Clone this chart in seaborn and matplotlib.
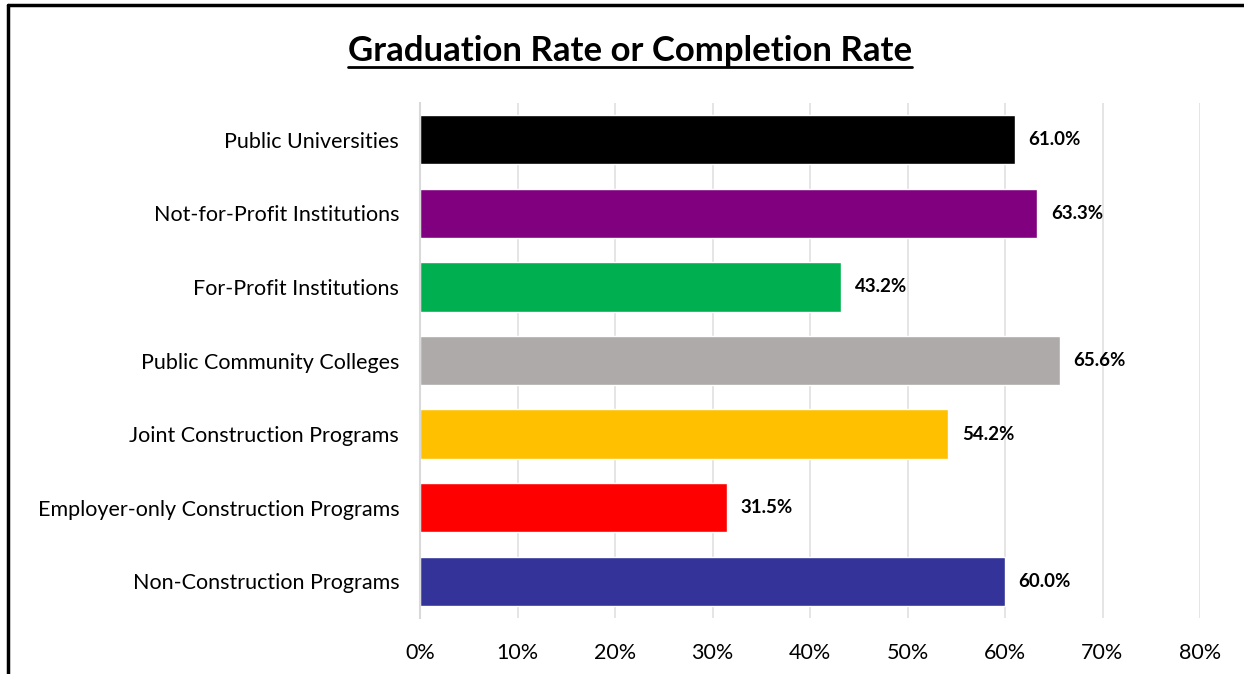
import matplotlib
matplotlib.use("Agg")
import matplotlib.pyplot as plt
import seaborn as sns
import pandas as pd
from matplotlib.ticker import PercentFormatter
from matplotlib.lines import Line2D

categories = [
    "Public Universities",
    "Not-for-Profit Institutions",
    "For-Profit Institutions",
    "Public Community Colleges",
    "Joint Construction Programs",
    "Employer-only Construction Programs",
    "Non-Construction Programs",
]
rates = [61.0, 63.3, 43.2, 65.6, 54.2, 31.5, 60.0]
colors = ["#000000", "#800080", "#00B050", "#AEAAAA", "#FFC000", "#FF0000", "#333399"]
xticks = [0, 10, 20, 30, 40, 50, 60, 70, 80]

df = pd.DataFrame({"category": categories, "rate": rates})

sns.set_style("white")
plt.rcParams["font.family"] = ["Lato", "DejaVu Sans"]
plt.rcParams["text.color"] = "black"
plt.rcParams["xtick.color"] = "black"
plt.rcParams["ytick.color"] = "black"

fig = plt.figure(figsize=(12.44, 6.74), dpi=100)
ax = fig.add_axes([420 / 1244, 1 - 618 / 674, 780 / 1244, 515 / 674])

sns.barplot(data=df, y="category", x="rate", hue="category", palette=colors,
            order=categories, legend=False, width=0.67, ax=ax, saturation=1)

ax.set_xlim(0, 80)
ax.set_xticks(xticks)
ax.xaxis.set_major_formatter(PercentFormatter(decimals=0))
ax.grid(axis="x", color="#E0E0E0", linewidth=1.2)
ax.set_axisbelow(True)
for s in ["top", "right", "bottom"]:
    ax.spines[s].set_visible(False)
ax.spines["left"].set_color("#D9D9D9")
ax.spines["left"].set_linewidth(1.5)
ax.tick_params(axis="x", length=0, pad=18, labelsize=15.5)
ax.tick_params(axis="y", length=0, pad=15, labelsize=15.5)
ax.set_xlabel("")
ax.set_ylabel("")

for i, v in enumerate(rates):
    ax.text(v + 1.4, i, f"{v:.1f}%", va="center", ha="left",
            fontsize=13.5, fontweight="bold")

fig.text(0.5065, 1 - 51 / 674, "Graduation Rate or Completion Rate",
         ha="center", va="center", fontsize=25, fontweight="bold")
# underline for the title
fig.add_artist(Line2D([348 / 1244, 912 / 1244], [1 - 67 / 674, 1 - 67 / 674],
                      color="black", linewidth=2))

# frame edges of the chart area
fig.add_artist(Line2D([8 / 1244, 1], [1 - 5 / 674, 1 - 5 / 674], color="black", linewidth=2.5))
fig.add_artist(Line2D([8 / 1244, 8 / 1244], [0, 1 - 5 / 674], color="black", linewidth=2.5))

fig.savefig("out.png", dpi=100)
